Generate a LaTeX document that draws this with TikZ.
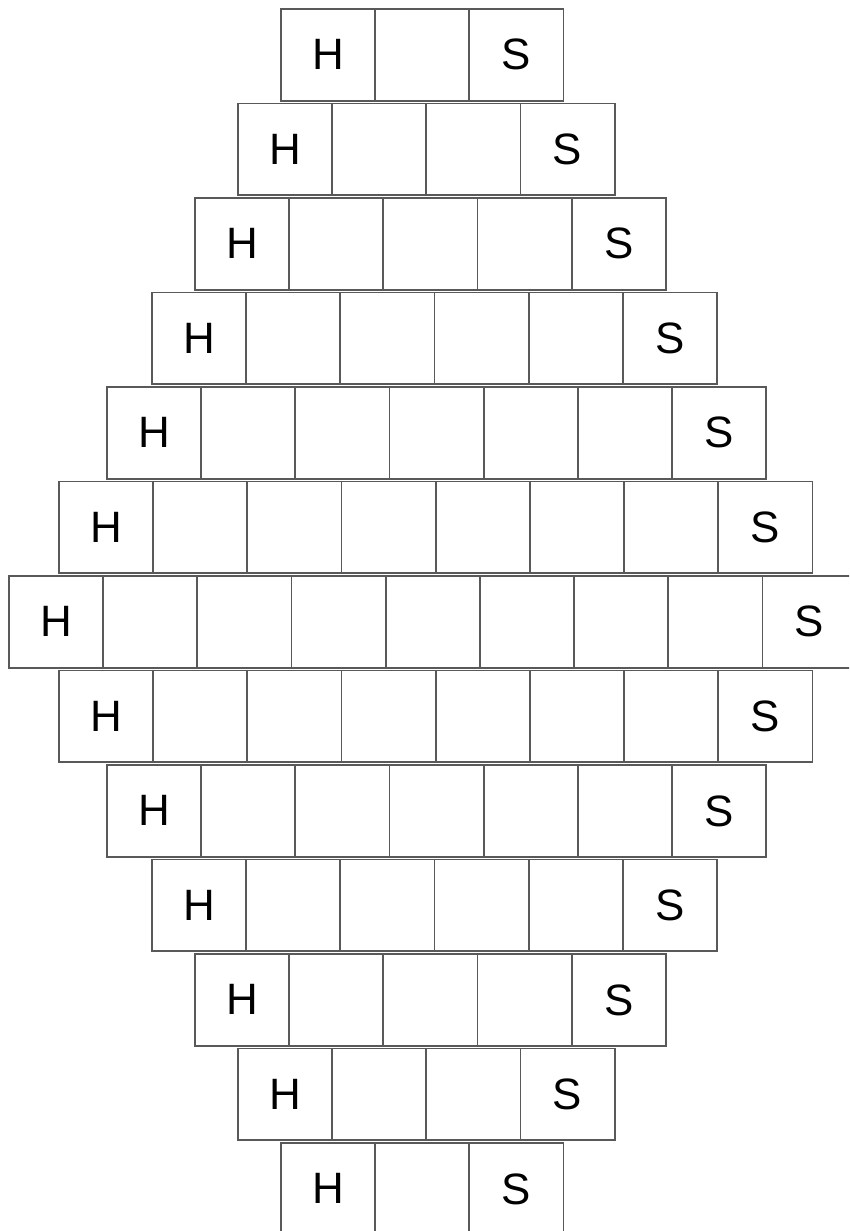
\documentclass[tikz,border=0pt]{standalone}
\usepackage{fontspec}
\setmainfont{Liberation Sans}
\usepackage{tikz}

\begin{document}
\begin{tikzpicture}[x=0.02cm,y=-0.02cm,
		cell/.style={draw=black!65,line width=1pt,minimum width=1.884cm,minimum height=1.84cm,
			inner sep=0pt,anchor=north west,font=\fontsize{25}{25}\selectfont}]
		\useasboundingbox (0,0) rectangle (849,1231);
		\clip (0,0) rectangle (849,1231);
		\foreach \r/\x in {0/280,1/237,2/194,3/151,4/106,5/58,6/8,7/58,8/106,9/151,10/194,11/237,12/280} {
			\pgfmathtruncatemacro{\nlast}{8-abs(\r-6)}
			\foreach \c in {0,...,\nlast}
				\node[cell] (c\r-\c) at ({\x+94.2*\c},{8+94.5*\r}) {\ifnum\c=0 H\else\ifnum\c=\nlast S\fi\fi};
		}
	\end{tikzpicture}
\end{document}
